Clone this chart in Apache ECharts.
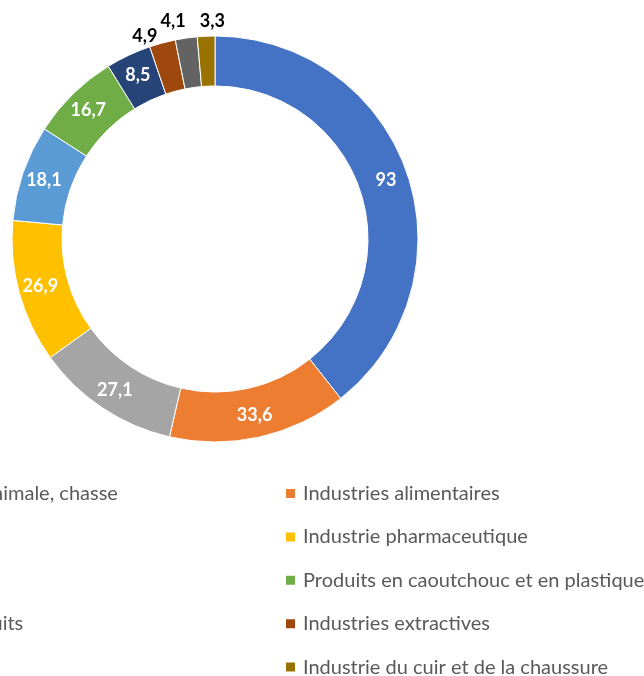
<!DOCTYPE html>
<html>
<head>
<meta charset="utf-8">
<script src="https://cdn.jsdelivr.net/npm/echarts@6/dist/echarts.min.js"></script>
<style>
  html, body { margin: 0; padding: 0; background: #fff; }
  #myChart { width: 644px; height: 676px; }
</style>
</head>
<body>
<div id="myChart"></div>
<script>
  // secteurs, dans l'ordre du graphique (sens horaire depuis midi)
  var sectors = [
    'Agriculture, production animale, chasse',
    'Industries alimentaires',
    'Industrie chimique',
    'Industrie pharmaceutique',
    'Industrie automobile',
    'Produits en caoutchouc et en plastique',
    "Fabrication d'autres produits",
    'Industries extractives',
    'Autres industries',
    'Industrie du cuir et de la chaussure'
  ]
  var values = [93, 33.6, 27.1, 26.9, 18.1, 16.7, 8.5, 4.9, 4.1, 3.3]
  var colors = ['#4472C4', '#ED7D31', '#A5A5A5', '#FFC000', '#5B9BD5',
    '#70AD47', '#264478', '#9E480E', '#636363', '#997300']
  // petites parts : étiquette à l'extérieur
  var outsideIdx = [7, 8, 9]

  var fontFamily = 'Lato, "Open Sans", sans-serif'

  var pieData = values.map(function(v, i) {
    var item = { name: sectors[i], value: v }
    if (outsideIdx.indexOf(i) !== -1) {
      item.label = { position: 'outside', color: '#000' }
    }
    return item
  })

  var leftNames = sectors.filter(function(s, i) { return i % 2 === 0 })
  var rightNames = sectors.filter(function(s, i) { return i % 2 === 1 })

  var legendBase = {
    orient: 'vertical',
    top: 483.5,
    height: 200,
    padding: 0,
    icon: 'rect',
    itemWidth: 11,
    itemHeight: 11,
    itemGap: 23.4,
    textStyle: {
      color: '#595959',
      fontSize: 20,
      fontFamily: fontFamily,
      padding: [0, 0, 0, 2]
    }
  }

  // décalage des petites étiquettes extérieures
  var labelShift = { 7: [1, -3], 8: [5, -13], 9: [24, -11] }

  var myChart = echarts.init(document.getElementById('myChart'))
  myChart.setOption({
    color: colors,
    animation: false,
    legend: [
      Object.assign({}, legendBase, { left: -245, data: leftNames }),
      Object.assign({}, legendBase, { left: 284, data: rightNames })
    ],
    series: [{
      type: 'pie',
      center: [215, 239],
      radius: [153, 203],
      startAngle: 90,
      clockwise: true,
      avoidLabelOverlap: false,
      itemStyle: { borderColor: '#fff', borderWidth: 1 },
      label: {
        show: true,
        position: 'inside',
        color: '#fff',
        fontSize: 18,
        fontWeight: 'bold',
        fontFamily: fontFamily,
        formatter: function(p) {
          return String(p.value).replace('.', ',')
        }
      },
      labelLine: { show: false, length: 4, length2: 0 },
      labelLayout: function(params) {
        var s = labelShift[params.dataIndex]
        if (s) return { dx: s[0], dy: s[1], hideOverlap: false }
        return { hideOverlap: false }
      },
      data: pieData
    }]
  })
</script>
</body>
</html>
